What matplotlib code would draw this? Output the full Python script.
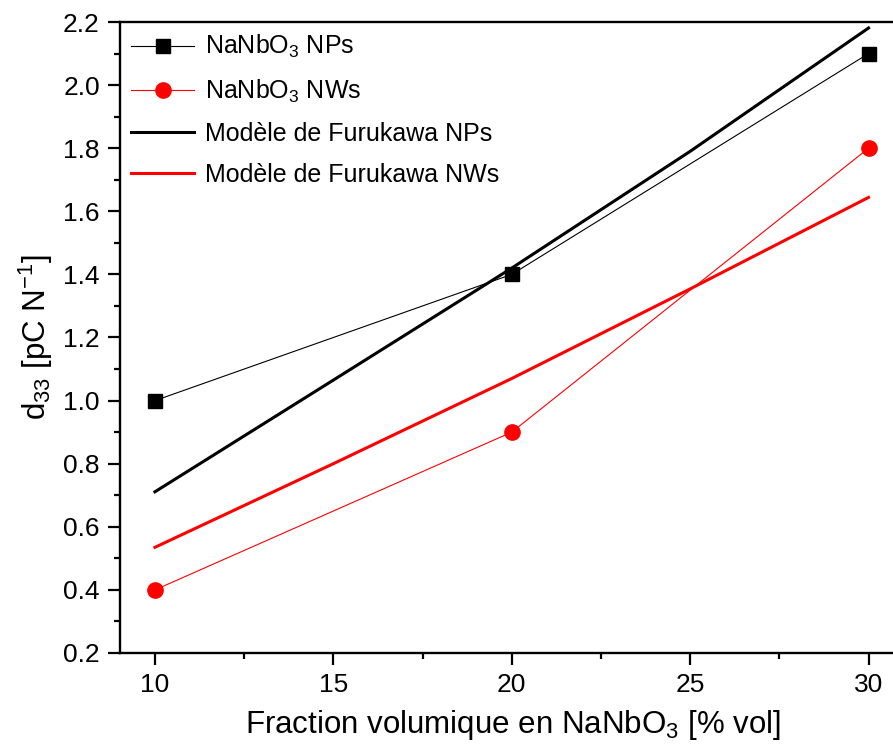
import matplotlib.pyplot as plt
from matplotlib.ticker import MultipleLocator

plt.rcParams['font.family'] = ['Liberation Sans', 'DejaVu Sans']
plt.rcParams['mathtext.fontset'] = 'custom'
plt.rcParams['mathtext.rm'] = 'Liberation Sans'

# data
frac = [10, 20, 30]
d33_nps = [1.0, 1.4, 2.1]
d33_nws = [0.4, 0.9, 1.8]
# Furukawa model curves (slightly convex)
frac_model = [10, 15, 20, 25, 30]
furukawa_nps = [0.711, 1.065, 1.42, 1.79, 2.181]
furukawa_nws = [0.535, 0.80, 1.07, 1.354, 1.644]

fig = plt.figure(figsize=(8.93, 7.56), dpi=100)
# axes deliberately runs past the right edge (the reference is cropped)
ax = fig.add_axes([120 / 893, 103 / 756, 786 / 893, 631 / 756])

ax.plot(frac, d33_nps, color='black', lw=0.8, marker='s', ms=9.5, label='NaNbO$_\\mathregular{3}$ NPs')
ax.plot(frac, d33_nws, color='red', lw=0.8, marker='o', ms=11, label='NaNbO$_\\mathregular{3}$ NWs')
ax.plot(frac_model, furukawa_nps, color='black', lw=2.2, label='Modèle de Furukawa NPs')
ax.plot(frac_model, furukawa_nws, color='red', lw=2.2, label='Modèle de Furukawa NWs')

ax.set_xlim(9.02, 31.05)
ax.set_ylim(0.2, 2.2)
ax.xaxis.set_major_locator(MultipleLocator(5))
ax.xaxis.set_minor_locator(MultipleLocator(2.5))
ax.yaxis.set_major_locator(MultipleLocator(0.2))
ax.yaxis.set_minor_locator(MultipleLocator(0.1))
ax.tick_params(which='major', direction='out', length=8.5, width=1.6, labelsize=19, pad=6)
ax.tick_params(which='minor', direction='out', length=4.5, width=1.6)
for s in ax.spines.values():
    s.set_linewidth(1.7)

ax.set_xlabel('Fraction volumique en NaNbO$_\\mathregular{3}$ [% vol]', fontsize=22.5, labelpad=8)
ax.set_ylabel('d$_\\mathregular{33}$ [pC N$^\\mathregular{-1}$]', fontsize=22.5, labelpad=6)

ax.legend(loc='upper left', frameon=False, fontsize=18, handlelength=2.5,
          borderaxespad=0.15, borderpad=0.3, labelspacing=0.68, handletextpad=0.45)

fig.savefig('out.png', dpi=100)
